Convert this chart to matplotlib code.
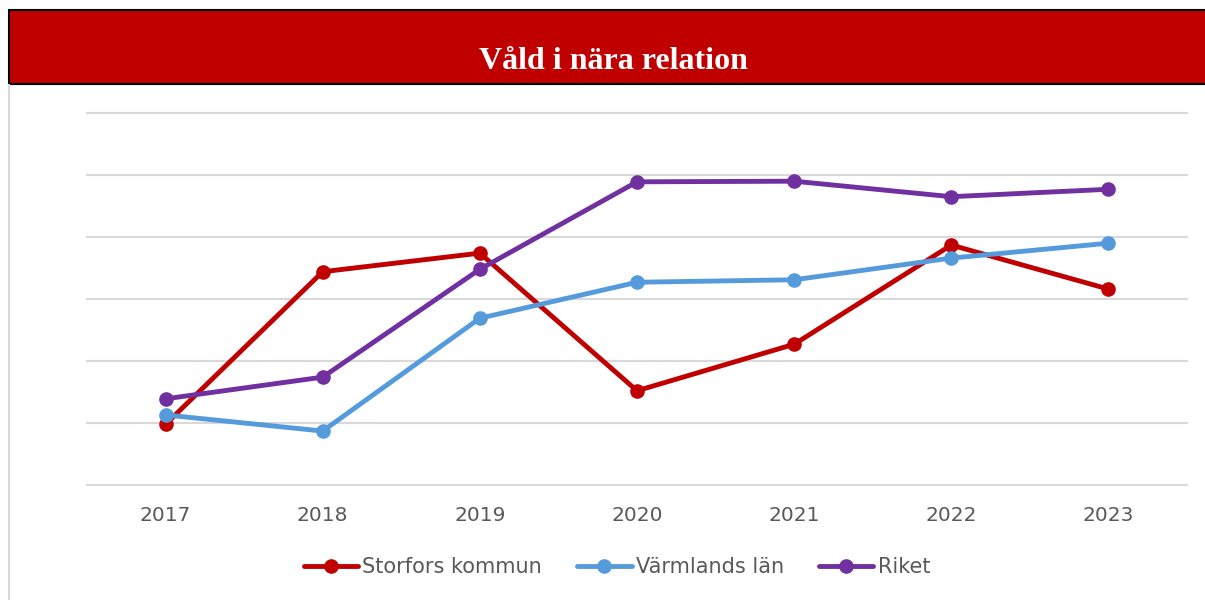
import matplotlib.pyplot as plt
from matplotlib.patches import Rectangle
from matplotlib.lines import Line2D

years = ['2017', '2018', '2019', '2020', '2021', '2022', '2023']
storfors = [0.98, 3.44, 3.74, 1.52, 2.27, 3.87, 3.16]
varmland = [1.13, 0.87, 2.69, 3.27, 3.31, 3.66, 3.90]
riket = [1.39, 1.74, 3.48, 4.89, 4.90, 4.65, 4.77]

series = [
    ('Storfors kommun', storfors, '#C00000'),
    ('Värmlands län', varmland, '#559BDC'),
    ('Riket', riket, '#7030A0'),
]

fig = plt.figure(figsize=(12.05, 6), dpi=100)

# title banner
fig.patches.append(Rectangle((9 / 1205, 1 - 84 / 600), 1.0, 74 / 600,
                             transform=fig.transFigure, facecolor='#C00000',
                             edgecolor='black', linewidth=1.5, zorder=0))
fig.text(0.509, 0.898, 'Våld i nära relation', color='white', ha='center', va='center',
         fontsize=23, fontweight='bold', family='Liberation Serif')
fig.add_artist(Line2D([9 / 1205, 9 / 1205], [0, 1 - 85 / 600], transform=fig.transFigure,
                      color='#D9D9D9', linewidth=1.5))

ax = fig.add_axes([87 / 1205, 1 - 485 / 600, 1100 / 1205, 372 / 600])
x = range(len(years))
for name, vals, col in series:
    ax.plot(x, vals, color=col, linewidth=3.5, marker='o', markersize=9.5,
            solid_capstyle='round', label=name, zorder=3)

ax.set_xlim(-0.5, 6.5)
ax.set_ylim(0, 6)
ax.set_yticks(range(7))
ax.set_yticklabels([])
ax.set_xticks(list(x))
ax.set_xticklabels(years, color='#595959', fontsize=14.5)
ax.tick_params(axis='both', length=0)
ax.tick_params(axis='x', pad=15)
ax.grid(axis='y', color='#D9D9D9', linewidth=1.5)
for gl in ax.get_ygridlines():
    gl.set_clip_on(False)
for s in ax.spines.values():
    s.set_visible(False)

fig.legend(loc='center', bbox_to_anchor=(0.512, 1 - 567 / 600), ncol=3, frameon=False,
           fontsize=15, labelcolor='#595959', handlelength=2.6, handletextpad=0.2,
           columnspacing=1.7)

fig.savefig('out.png', dpi=100)
